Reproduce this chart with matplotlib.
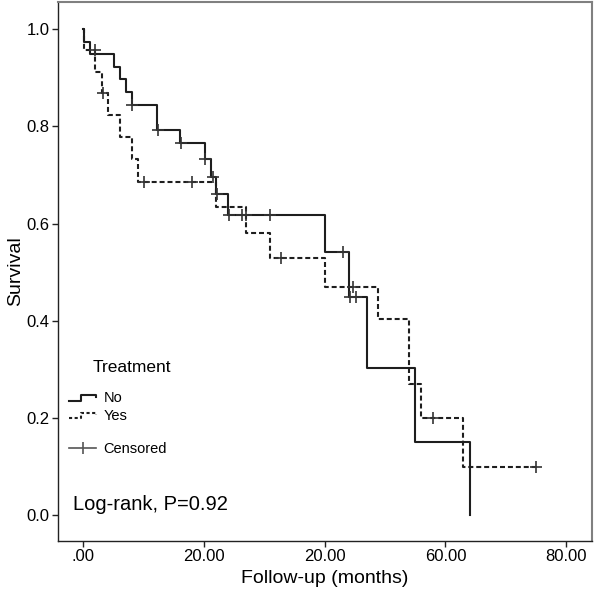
import matplotlib
matplotlib.use("Agg")
import matplotlib.pyplot as plt
import numpy as np
from matplotlib.lines import Line2D
from matplotlib.legend_handler import HandlerLine2D

plt.rcParams.update({
    "font.family": "sans-serif",
    "font.sans-serif": ["Liberation Sans", "DejaVu Sans"],
})

# ---------------------------------------------------------------------------
# Data (time of each drop, survival after the drop)
# ---------------------------------------------------------------------------
no_times = [0.1, 1.1, 5.0, 6.0, 7.0, 8.0, 12.2, 16.1, 20.1, 21.1, 22.0, 24.0,
            40.0, 44.0, 47.0, 55.0, 64.0]
no_surv = [0.973, 0.950, 0.922, 0.897, 0.870, 0.845, 0.792, 0.765, 0.733, 0.695,
           0.660, 0.617, 0.541, 0.450, 0.302, 0.150, 0.000]
no_censored = [8.1, 12.3, 16.2, 20.2, 21.5, 22.1, 24.1, 26.3, 27.0, 31.0,
               43.0, 44.2, 45.2]

yes_times = [0.1, 2.0, 3.1, 4.1, 6.0, 8.0, 9.0, 22.0, 27.0, 31.0, 40.0, 48.8,
             54.0, 56.0, 62.9]
yes_surv = [0.957, 0.912, 0.868, 0.823, 0.778, 0.732, 0.686, 0.634, 0.580,
            0.529, 0.469, 0.403, 0.270, 0.200, 0.100]
yes_censored = [1.9, 3.2, 10.0, 18.0, 32.8, 44.7, 58.0, 75.0]
yes_end = 75.0

x_ticks = [0, 20, 40, 60, 80]
x_tick_labels = [".00", "20.00", "20.00", "60.00", "80.00"]
y_ticks = [0.0, 0.2, 0.4, 0.6, 0.8, 1.0]

LINE_COLOR = "#1e1e1e"
MARK_COLOR = "#333333"


def surv_at(times, surv, t):
    i = np.searchsorted(times, t, side="right") - 1
    return 1.0 if i < 0 else surv[i]


class StepHandler(HandlerLine2D):
    # legend key drawn as a small step, like the SPSS output
    def create_artists(self, legend, orig_handle, xdescent, ydescent,
                       width, height, fontsize, trans):
        x0 = -xdescent
        y0 = -ydescent + height * 0.5
        h = height * 0.35
        xs = [x0, x0 + width * 0.45, x0 + width * 0.45, x0 + width, x0 + width]
        ys = [y0 - h, y0 - h, y0 + h * 0.6, y0 + h * 0.6, y0]
        line = Line2D(xs, ys)
        self.update_prop(line, orig_handle, legend)
        line.set_transform(trans)
        return [line]


fig = plt.figure(figsize=(5.96, 6.01), dpi=100)
ax = fig.add_axes([58 / 596, 60 / 601, 534 / 596, 539 / 601])

x_no = [0.0] + no_times
y_no = [1.0] + no_surv
x_yes = [0.0] + yes_times + [yes_end]
y_yes = [1.0] + yes_surv + [yes_surv[-1]]

ax.step(x_no, y_no, where="post", color=LINE_COLOR, linewidth=1.5)
ax.step(x_yes, y_yes, where="post", color=LINE_COLOR, linewidth=1.5,
        linestyle=(0, (2.4, 1.4)))

ax.plot(no_censored, [surv_at(no_times, no_surv, t) for t in no_censored],
        linestyle="none", marker="+", markersize=9, markeredgewidth=1.2,
        color=MARK_COLOR)
ax.plot(yes_censored, [surv_at(yes_times, yes_surv, t) for t in yes_censored],
        linestyle="none", marker="+", markersize=9, markeredgewidth=1.2,
        color=MARK_COLOR)

ax.set_xlim(-4.2, 84.3)
ax.set_ylim(-0.053, 1.056)
ax.set_xticks(x_ticks)
ax.set_xticklabels(x_tick_labels)
ax.set_yticks(y_ticks)
ax.set_yticklabels([f"{v:.1f}" for v in y_ticks])
ax.tick_params(axis="both", direction="out", length=4, width=1,
               color="#222222", labelsize=12, pad=2)

for side in ["left", "bottom"]:
    ax.spines[side].set_color("#222222")
    ax.spines[side].set_linewidth(1.0)
for side in ["top", "right"]:
    ax.spines[side].set_color("#808080")
    ax.spines[side].set_linewidth(1.5)

ax.set_xlabel("Follow-up (months)", fontsize=14, labelpad=4)
ax.set_ylabel("Survival", fontsize=14, labelpad=2)

# legend
ax.text(0.064, 0.321, "Treatment", transform=ax.transAxes, fontsize=12.5,
        ha="left", va="center")
h_no = Line2D([], [], color=LINE_COLOR, linewidth=1.5)
h_yes = Line2D([], [], color=LINE_COLOR, linewidth=1.5, linestyle=(0, (1.5, 1.2)))
leg1 = ax.legend([h_no, h_yes], ["No", "Yes"], loc="upper left",
                 bbox_to_anchor=(0.02, 0.278), frameon=False, fontsize=10.5,
                 handlelength=1.9, handletextpad=0.5, labelspacing=0.25,
                 borderpad=0, borderaxespad=0,
                 handler_map={Line2D: StepHandler()})
ax.add_artist(leg1)
h_cens = Line2D([], [], color="#555555", linewidth=1.2, marker="|",
                markersize=9, markeredgewidth=1.2)
ax.legend([h_cens], ["Censored"], loc="upper left",
          bbox_to_anchor=(0.02, 0.183), frameon=False, fontsize=10.5,
          handlelength=1.9, handletextpad=0.5, borderpad=0, borderaxespad=0)

ax.text(0.028, 0.068, "Log-rank, P=0.92", transform=ax.transAxes,
        fontsize=14.5, ha="left", va="center")

fig.savefig("out.png", dpi=100, facecolor="white")
